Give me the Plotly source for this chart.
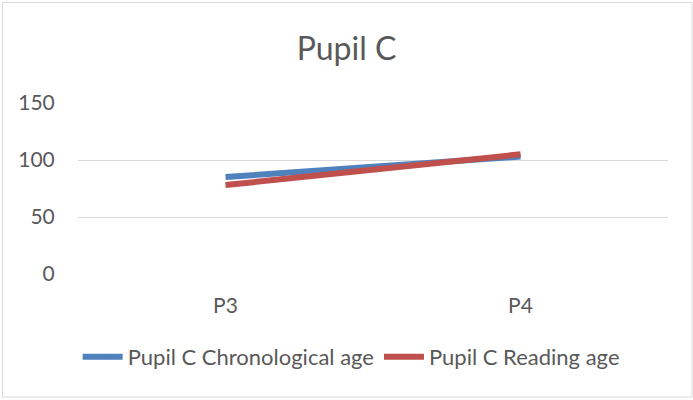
import plotly.graph_objects as go

categories = ["P3", "P4"]
chronological_age = [85, 103]
reading_age = [78, 105]
y_ticks = [0, 50, 100, 150]

font_family = "Lato, Open Sans, sans-serif"
text_color = "#595959"

fig = go.Figure()
fig.add_trace(go.Scatter(x=categories, y=chronological_age, mode="lines",
                         name="Pupil C Chronological age",
                         line=dict(color="#4F81BD", width=6)))
fig.add_trace(go.Scatter(x=categories, y=reading_age, mode="lines",
                         name="Pupil C Reading age",
                         line=dict(color="#C0504D", width=6)))

fig.update_layout(
    width=693, height=400,
    margin=dict(l=78, r=25, t=103, b=126),
    paper_bgcolor="white", plot_bgcolor="white",
    font=dict(family=font_family, color=text_color, size=21),
    title=dict(text="Pupil C", x=0.5, xanchor="center", y=1 - 49 / 400, yanchor="middle",
               font=dict(size=32, color=text_color, family=font_family)),
    showlegend=True,
    legend=dict(orientation="h", x=0.463, xanchor="center", y=-0.485, yanchor="middle",
                font=dict(size=22, color=text_color), itemwidth=40,
                tracegroupgap=0),
    xaxis=dict(type="category", range=[-0.5, 1.5], showgrid=False, zeroline=False,
               showline=False, ticks="outside", ticklen=13, tickcolor="rgba(0,0,0,0)",
               tickfont=dict(size=21, color=text_color)),
    yaxis=dict(range=[0, 150], tickvals=y_ticks, showgrid=True, gridcolor="#d9d9d9",
               gridwidth=1, zeroline=False, showline=False, ticks="outside", ticklen=18,
               tickcolor="rgba(0,0,0,0)", tickfont=dict(size=21, color=text_color)),
    shapes=[dict(type="rect", xref="paper", yref="paper",
                 x0=(2.5 - 78) / 590, x1=(692 - 78) / 590,
                 y0=(274 - 397) / 171, y1=(274 - 2.5) / 171,
                 line=dict(color="#d9d9d9", width=1), fillcolor="rgba(0,0,0,0)")],
)

fig.write_html("out.html", config={"displayModeBar": False},
               post_script="document.body.style.margin='0';document.body.style.padding='0';")
